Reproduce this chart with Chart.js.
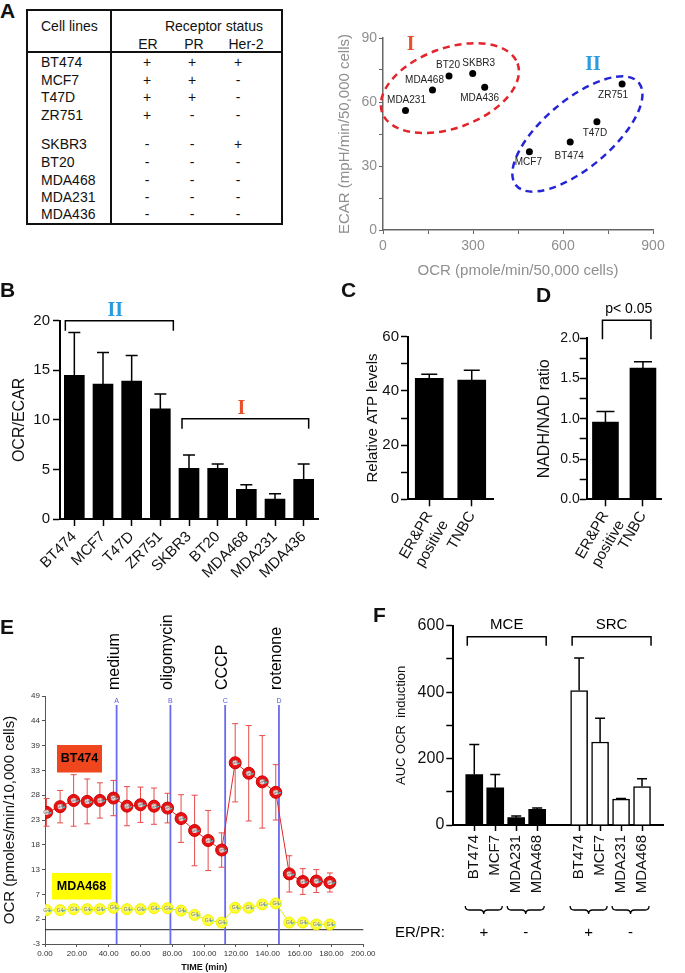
<!DOCTYPE html>
<html>
<head>
<meta charset="utf-8">
<script src="https://cdn.jsdelivr.net/npm/chart.js@4.4.0/dist/chart.umd.min.js"></script>
<style>
  body { margin: 0; background: #fff; }
  #page { position: relative; width: 685px; height: 973px; overflow: hidden; background: #fff;
          font-family: 'Liberation Sans', Arial, sans-serif; color: #111; }
  #page canvas { position: absolute; }
  .txt { position: absolute; white-space: nowrap; line-height: 1.15; }
  .line { position: absolute; background: #111; }
</style>
</head>
<body>
<div id="page">
  <canvas id="chartA" width="345" height="270" style="left:325px;top:20px"></canvas>
  <canvas id="chartB" width="330" height="290" style="left:0px;top:300px"></canvas>
  <canvas id="chartC" width="150" height="290" style="left:355px;top:300px"></canvas>
  <canvas id="chartD" width="150" height="290" style="left:530px;top:300px"></canvas>
  <canvas id="chartE" width="380" height="373" style="left:0px;top:600px"></canvas>
  <canvas id="chartF" width="300" height="373" style="left:385px;top:600px"></canvas>
</div>
<script>
// ---------- Panel A: receptor table ----------
const cellLines  = ['BT474', 'MCF7', 'T47D', 'ZR751', 'SKBR3', 'BT20', 'MDA468', 'MDA231', 'MDA436'];
const erStatus   = ['+', '+', '+', '+', '-', '-', '-', '-', '-'];
const prStatus   = ['+', '+', '+', '-', '-', '-', '-', '-', '-'];
const her2Status = ['+', '-', '-', '-', '+', '-', '-', '-', '-'];

// ---------- Panel A: OCR vs ECAR ----------
const scatterCells = ['MDA231', 'MDA468', 'BT20', 'SKBR3', 'MDA436', 'MCF7', 'BT474', 'T47D', 'ZR751'];
const scatterOcr   = [75, 165, 220, 299, 339, 488, 624, 713, 797];
const scatterEcar  = [56, 65.6, 72.2, 73.4, 66.9, 36.7, 41.3, 50.8, 68.4];

// ---------- Panel B: OCR/ECAR ----------
const bCells    = cellLines;
const bRatio    = [14.5, 13.6, 13.9, 11.1, 5.1, 5.1, 3.0, 2.0, 4.0];
const bRatioErr = [4.3, 3.2, 2.6, 1.5, 1.35, 0.45, 0.45, 0.55, 1.55];

// ---------- Panels C, D ----------
const cdGroups  = [['ER&PR', 'positive'], 'TNBC'];
const cAtp      = [44.6, 44.0];
const cAtpErr   = [1.5, 3.6];
const dNadh     = [0.96, 1.63];
const dNadhErr  = [0.13, 0.08];

// ---------- Panel E: OCR time course ----------
const eTime     = [1, 9.5, 18, 26.5, 34.5, 43, 51.5, 60, 68.5, 77, 85.5, 94, 102.5, 111, 119.5, 128, 136.5, 145, 153.5, 162, 170.5, 179];
const bt474Ocr  = [24.6, 25.8, 27.1, 26.9, 27.1, 27.6, 25.9, 26.2, 25.9, 25.5, 23.3, 20.8, 18.7, 16.7, 35.0, 32.8, 31.0, 28.8, 11.7, 10.1, 10.2, 9.9];
const bt474Sd   = [2.9, 3.4, 5.4, 4.7, 3.7, 3.7, 4.1, 3.7, 3.8, 3.1, 5.0, 7.4, 6.3, 3.6, 8.2, 10.0, 9.7, 5.8, 3.8, 2.7, 2.4, 2.0];
const mda468Ocr = [4.1, 4.1, 4.3, 4.3, 4.3, 4.6, 4.3, 4.3, 4.5, 4.5, 4.0, 3.1, 2.0, 1.5, 4.6, 4.6, 5.3, 5.5, 1.5, 1.5, 1.1, 1.1];
const eInjectTimes = [45, 78.8, 113.2, 147];
const eInjectPorts = ['A', 'B', 'C', 'D'];
const eDrugs       = ['medium', 'oligomycin', 'CCCP', 'rotenone'];

// ---------- Panel F: AUC OCR induction ----------
const fCells   = ['BT474', 'MCF7', 'MDA231', 'MDA468'];
const fMce     = [152, 112, 22, 47];
const fMceErr  = [90, 40, 5, 4];
const fSrc     = [405, 250, 78, 116];
const fSrcErr  = [98, 71, 2, 23];
const fErPr    = ['+', '-', '+', '-'];

const FONT = "'Liberation Sans', Arial, sans-serif";
Chart.defaults.font.family = FONT;
Chart.defaults.color = '#111';
Chart.defaults.animation = false;
Chart.defaults.responsive = false;
Chart.defaults.devicePixelRatio = 1;
Chart.defaults.plugins.legend.display = false;
Chart.defaults.plugins.tooltip.enabled = false;

const page = document.getElementById('page');

// DOM text helper (x/y = anchor, vertically centred)
function addText(str, x, y, opts = {}) {
  const el = document.createElement('div');
  el.className = 'txt';
  el.textContent = str;
  el.style.left = x + 'px';
  el.style.top = y + 'px';
  el.style.fontSize = (opts.size || 14) + 'px';
  if (opts.bold) el.style.fontWeight = 'bold';
  const tx = opts.align === 'center' ? '-50%' : opts.align === 'right' ? '-100%' : '0';
  el.style.transform = `translate(${tx}, -50%)`;
  page.appendChild(el);
}

function addLine(x, y, w, h) {
  const el = document.createElement('div');
  el.className = 'line';
  el.style.left = x + 'px';
  el.style.top = y + 'px';
  el.style.width = w + 'px';
  el.style.height = h + 'px';
  page.appendChild(el);
}

// Panel letters
addText('A', 0, 11, { size: 21, bold: true });
addText('B', 0, 290, { size: 21, bold: true });
addText('C', 341, 290, { size: 21, bold: true });
addText('D', 536, 295, { size: 21, bold: true });
addText('E', 0, 627, { size: 21, bold: true });
addText('F', 373, 615, { size: 21, bold: true });

// Table
addLine(26, 9, 257, 2);
addLine(26, 223, 257, 2);
addLine(26, 9, 2, 216);
addLine(281, 9, 2, 216);
addLine(110, 9, 2, 216);
addLine(26, 51, 257, 2);
addText('Cell lines', 41, 26);
addText('Receptor status', 214, 26, { align: 'center' });
addText('ER', 148, 44, { align: 'center' });
addText('PR', 194, 44, { align: 'center' });
addText('Her-2', 246, 44, { align: 'center' });
const rowY = [62, 79.5, 97, 115, 144, 162, 180, 197, 214];
cellLines.forEach((name, i) => {
  addText(name, 41, rowY[i]);
  addText(erStatus[i], 147, rowY[i], { align: 'center' });
  addText(prStatus[i], 192, rowY[i], { align: 'center' });
  addText(her2Status[i], 238, rowY[i], { align: 'center' });
});

// fixed axis sizes so chart areas land where the figure has them
function fixWidth(w) { return scale => { scale.width = w; }; }
function fixHeight(h) { return scale => { scale.height = h; }; }

// upward error bars for bar charts
const barErrors = {
  id: 'barErrors',
  afterDatasetsDraw(chart) {
    const ctx = chart.ctx;
    const y = chart.scales.y;
    chart.data.datasets.forEach((ds, di) => {
      if (!ds.errors) return;
      chart.getDatasetMeta(di).data.forEach((bar, i) => {
        const v = ds.data[i], e = ds.errors[i];
        if (v == null || e == null) return;
        const top = y.getPixelForValue(v + e);
        const half = (ds.capWidth || 10) / 2;
        ctx.save();
        ctx.strokeStyle = '#000';
        ctx.lineWidth = 1.5;
        ctx.beginPath();
        ctx.moveTo(bar.x, bar.y);
        ctx.lineTo(bar.x, top);
        ctx.moveTo(bar.x - half, top);
        ctx.lineTo(bar.x + half, top);
        ctx.stroke();
        ctx.restore();
      });
    });
  }
};

function bracket(ctx, x1, x2, yTop, drop) {
  ctx.beginPath();
  ctx.moveTo(x1, yTop + drop);
  ctx.lineTo(x1, yTop);
  ctx.lineTo(x2, yTop);
  ctx.lineTo(x2, yTop + drop);
  ctx.stroke();
}

function blackAxis(opts) {
  return Object.assign({
    grid: { drawOnChartArea: false, color: '#000', tickLength: 7, tickWidth: 1.5, offset: false },
    border: { color: '#000', width: 2 }
  }, opts);
}

// ---------- Chart A: scatter ----------
const groupEllipses = [
  { ocr: 223, ecar: 66.5, rx: 72, ry: 40, angle: -20, color: '#e3242b' },
  { ocr: 648, ecar: 45, rx: 80, ry: 34, angle: -40, color: '#2525d5' }
];
const groupNames = [
  { text: 'I', ocr: 92, ecar: 86.7, color: '#e8502a' },
  { text: 'II', ocr: 700, ecar: 77.3, color: '#2a9be0' }
];
const scatterLabelOffsets = [[1, -10], [-8, -10], [-1, -11], [6, -10], [-5, 11], [-1, 11], [-1, 14], [-2, 12], [-9, 11]];

const scatterPlugin = {
  id: 'scatterDeco',
  afterDatasetsDraw(chart) {
    const { ctx, scales: { x, y } } = chart;
    ctx.save();
    groupEllipses.forEach(g => {
      ctx.beginPath();
      ctx.ellipse(x.getPixelForValue(g.ocr), y.getPixelForValue(g.ecar), g.rx, g.ry, g.angle * Math.PI / 180, 0, Math.PI * 2);
      ctx.setLineDash([7, 5]);
      ctx.lineWidth = 2.5;
      ctx.strokeStyle = g.color;
      ctx.stroke();
    });
    ctx.setLineDash([]);
    ctx.font = "bold 20px 'Liberation Serif', 'DejaVu Serif', serif";
    ctx.textAlign = 'center';
    ctx.textBaseline = 'middle';
    groupNames.forEach(g => {
      ctx.fillStyle = g.color;
      ctx.fillText(g.text, x.getPixelForValue(g.ocr), y.getPixelForValue(g.ecar));
    });
    ctx.font = '10px ' + FONT;
    ctx.fillStyle = '#222';
    chart.getDatasetMeta(0).data.forEach((pt, i) => {
      const off = scatterLabelOffsets[i];
      ctx.fillText(scatterCells[i], pt.x + off[0], pt.y + off[1]);
    });
    ctx.restore();
  }
};

const grayText = '#8f8f8f';
new Chart(document.getElementById('chartA'), {
  type: 'scatter',
  data: {
    datasets: [{
      data: scatterOcr.map((v, i) => ({ x: v, y: scatterEcar[i] })),
      pointRadius: 3.5,
      pointBackgroundColor: '#000',
      pointBorderWidth: 0
    }]
  },
  options: {
    layout: { padding: { top: 18, right: 17, bottom: 8, left: 0 } },
    scales: {
      x: {
        type: 'linear', min: 0, max: 900,
        ticks: { stepSize: 150, color: grayText, font: { size: 14 }, padding: 4, maxRotation: 0,
                 callback: v => (v % 300 === 0 ? v : '') },
        grid: { drawOnChartArea: false, color: '#666', tickLength: 4 },
        border: { color: '#666', width: 1.5 },
        title: { display: true, text: 'OCR (pmole/min/50,000 cells)', color: grayText, font: { size: 15 }, padding: { top: 0, bottom: 2 } },
        afterFit: fixHeight(52)
      },
      y: {
        min: 0, max: 90,
        ticks: { stepSize: 15, color: grayText, font: { size: 14 }, padding: 2,
                 callback: v => (v % 30 === 0 ? v : '') },
        grid: { drawOnChartArea: false, color: '#666', tickLength: 4 },
        border: { color: '#666', width: 1.5 },
        title: { display: true, text: 'ECAR (mpH/min/50,000 cells)', color: grayText, font: { size: 15 }, padding: { top: 11, bottom: 0 } },
        afterFit: fixWidth(58)
      }
    }
  },
  plugins: [scatterPlugin]
});

// ---------- Chart B: OCR/ECAR bars ----------
const bBrackets = [
  { from: 0, to: 3, padL: -9, padR: 13, value: 20, text: 'II', color: '#2a9be0' },
  { from: 4, to: 8, padL: -7, padR: 5, value: 10.1, text: 'I', color: '#e8502a' }
];
const bPlugin = {
  id: 'bBrackets',
  afterDraw(chart) {
    const { ctx, scales: { x, y } } = chart;
    ctx.save();
    ctx.strokeStyle = '#000';
    ctx.lineWidth = 1.5;
    ctx.font = "bold 20px 'Liberation Serif', 'DejaVu Serif', serif";
    ctx.textAlign = 'center';
    ctx.textBaseline = 'middle';
    bBrackets.forEach(b => {
      const x1 = x.getPixelForValue(b.from) + b.padL;
      const x2 = x.getPixelForValue(b.to) + b.padR;
      const top = y.getPixelForValue(b.value);
      bracket(ctx, x1, x2, top, 10);
      ctx.fillStyle = b.color;
      ctx.fillText(b.text, (x1 + x2) / 2 - 4, top - 10);
    });
    ctx.restore();
  }
};

new Chart(document.getElementById('chartB'), {
  type: 'bar',
  data: {
    labels: bCells,
    datasets: [{ data: bRatio, errors: bRatioErr, capWidth: 12, backgroundColor: '#000', barThickness: 20 }]
  },
  options: {
    layout: { padding: { top: 20.7, right: 12, bottom: 0, left: 0 } },
    scales: {
      x: blackAxis({
        ticks: { font: { size: 15 }, minRotation: 45, maxRotation: 45, padding: 2, autoSkip: false },
        afterFit: fixHeight(71)
      }),
      y: blackAxis({
        min: 0, max: 20,
        ticks: { stepSize: 5, font: { size: 15 }, padding: 3 },
        title: { display: true, text: 'OCR/ECAR', font: { size: 16 }, padding: { top: 9.6, bottom: 0 } },
        afterFit: fixWidth(60)
      })
    }
  },
  plugins: [barErrors, bPlugin]
});

// ---------- Chart C: ATP ----------
new Chart(document.getElementById('chartC'), {
  type: 'bar',
  data: {
    labels: cdGroups,
    datasets: [{ data: cAtp, errors: cAtpErr, capWidth: 16, backgroundColor: '#000', barThickness: 28 }]
  },
  options: {
    layout: { padding: { top: 36.7, right: 12, bottom: 0, left: 0 } },
    scales: {
      x: blackAxis({
        ticks: { font: { size: 15 }, minRotation: 60, maxRotation: 60, padding: 2, autoSkip: false },
        afterFit: fixHeight(90.7)
      }),
      y: blackAxis({
        min: 0, max: 60,
        ticks: { stepSize: 10, font: { size: 15 }, padding: 2, callback: v => (v % 20 === 0 ? v : '') },
        title: { display: true, text: 'Relative ATP levels', font: { size: 15 }, padding: { top: 9, bottom: 0 } },
        afterFit: fixWidth(53)
      })
    }
  },
  plugins: [barErrors]
});

// ---------- Chart D: NADH/NAD ----------
const dPlugin = {
  id: 'dSignif',
  afterDraw(chart) {
    const { ctx, scales: { x } } = chart;
    const x1 = x.getPixelForValue(0) - 3;
    const x2 = x.getPixelForValue(1) + 8;
    const top = chart.chartArea.top - 18;
    ctx.save();
    ctx.strokeStyle = '#000';
    ctx.lineWidth = 1.5;
    bracket(ctx, x1, x2, top, 19);
    ctx.fillStyle = '#000';
    ctx.font = '14px ' + FONT;
    ctx.textAlign = 'center';
    ctx.textBaseline = 'middle';
    ctx.fillText('p< 0.05', (x1 + x2) / 2 + 2, top - 11);
    ctx.restore();
  }
};

new Chart(document.getElementById('chartD'), {
  type: 'bar',
  data: {
    labels: cdGroups,
    datasets: [{ data: dNadh, errors: dNadhErr, capWidth: 18, backgroundColor: '#000', barThickness: 26 }]
  },
  options: {
    layout: { padding: { top: 38.3, right: 18.3, bottom: 0, left: 0 } },
    scales: {
      x: blackAxis({
        ticks: { font: { size: 15 }, minRotation: 60, maxRotation: 60, padding: 2, autoSkip: false },
        afterFit: fixHeight(90.7)
      }),
      y: blackAxis({
        min: 0, max: 2,
        ticks: { stepSize: 0.25, font: { size: 14 }, padding: 0,
                 callback: v => (Math.abs(v * 2 - Math.round(v * 2)) < 1e-6 ? v.toFixed(1) : '') },
        title: { display: true, text: 'NADH/NAD ratio', font: { size: 16 }, padding: { top: 5.4, bottom: 0 } },
        afterFit: fixWidth(56.7)
      })
    }
  },
  plugins: [barErrors, dPlugin]
});

// ---------- Chart E: OCR time course ----------
const ePlugin = {
  id: 'eDeco',
  beforeDatasetsDraw(chart) {
    const { ctx, chartArea: area, scales: { x, y } } = chart;
    ctx.save();
    // zero line
    ctx.strokeStyle = '#222';
    ctx.lineWidth = 1;
    ctx.beginPath();
    ctx.moveTo(area.left, y.getPixelForValue(0));
    ctx.lineTo(area.right, y.getPixelForValue(0));
    ctx.stroke();
    // injection ports
    eInjectTimes.forEach((t, i) => {
      const px = x.getPixelForValue(t);
      ctx.strokeStyle = '#6a6af0';
      ctx.lineWidth = 1.8;
      ctx.beginPath();
      ctx.moveTo(px, area.top + 9);
      ctx.lineTo(px, area.bottom);
      ctx.stroke();
      ctx.fillStyle = '#5a5ae0';
      ctx.font = '7px ' + FONT;
      ctx.textAlign = 'center';
      ctx.textBaseline = 'middle';
      ctx.fillText(eInjectPorts[i], px, area.top + 5);
      ctx.save();
      ctx.translate(px - 2.5, area.top - 6);
      ctx.rotate(-Math.PI / 2);
      ctx.fillStyle = '#000';
      ctx.font = '16px ' + FONT;
      ctx.textAlign = 'left';
      ctx.fillText(eDrugs[i], 0, 0);
      ctx.restore();
    });
    // BT474 error bars
    ctx.strokeStyle = '#e84a4a';
    ctx.lineWidth = 1;
    chart.getDatasetMeta(0).data.forEach((pt, i) => {
      const hi = y.getPixelForValue(bt474Ocr[i] + bt474Sd[i]);
      const lo = y.getPixelForValue(bt474Ocr[i] - bt474Sd[i]);
      ctx.beginPath();
      ctx.moveTo(pt.x, hi); ctx.lineTo(pt.x, lo);
      ctx.moveTo(pt.x - 3, hi); ctx.lineTo(pt.x + 3, hi);
      ctx.moveTo(pt.x - 3, lo); ctx.lineTo(pt.x + 3, lo);
      ctx.stroke();
    });
    ctx.restore();
  },
  afterDatasetsDraw(chart) {
    const { ctx, chartArea: area } = chart;
    ctx.save();
    ctx.textAlign = 'center';
    ctx.textBaseline = 'middle';
    chart.data.datasets.forEach((ds, di) => {
      chart.getDatasetMeta(di).data.forEach(pt => {
        ctx.fillStyle = ds.innerColor;
        ctx.beginPath();
        ctx.arc(pt.x, pt.y, 2.6, 0, Math.PI * 2);
        ctx.fill();
        ctx.strokeStyle = '#45c8d8';
        ctx.lineWidth = 1.2;
        ctx.beginPath();
        ctx.moveTo(pt.x + 2, pt.y + 1.5);
        ctx.lineTo(pt.x + 5, pt.y);
        ctx.stroke();
        ctx.fillStyle = '#777';
        ctx.font = '5px ' + FONT;
        ctx.fillText('G4', pt.x, pt.y);
      });
    });
    // line labels
    ctx.font = 'bold 12.5px ' + FONT;
    ctx.fillStyle = '#f0461e';
    ctx.fillRect(area.left + 12, area.top + 49, 45, 27.5);
    ctx.fillStyle = '#000';
    ctx.fillText('BT474', area.left + 34.5, area.top + 63);
    ctx.fillStyle = '#ffff00';
    ctx.fillRect(area.left + 7, area.top + 177, 59, 26.5);
    ctx.fillStyle = '#000';
    ctx.fillText('MDA468', area.left + 36.5, area.top + 190.5);
    ctx.restore();
  }
};

new Chart(document.getElementById('chartE'), {
  type: 'line',
  data: {
    datasets: [
      {
        data: eTime.map((t, i) => ({ x: t, y: bt474Ocr[i] })),
        borderColor: '#e02a2a', borderWidth: 1,
        pointRadius: 6, pointBackgroundColor: '#e81010', pointBorderColor: '#d00000', pointBorderWidth: 1,
        innerColor: '#e6cfcf'
      },
      {
        data: eTime.map((t, i) => ({ x: t, y: mda468Ocr[i] })),
        borderColor: '#e8e800', borderWidth: 1,
        pointRadius: 5.5, pointBackgroundColor: '#ffff30', pointBorderColor: '#f0f000', pointBorderWidth: 1,
        innerColor: '#f6f6a8'
      }
    ]
  },
  options: {
    layout: { padding: { top: 96, right: 16.7, bottom: 0, left: 0 } },
    scales: {
      x: {
        type: 'linear', min: 0, max: 200,
        ticks: { stepSize: 20, font: { size: 8 }, color: '#333', padding: 2, maxRotation: 0, autoSkip: false,
                 callback: v => v.toFixed(2) },
        grid: { drawOnChartArea: false, color: '#555', tickLength: 3 },
        border: { color: '#555', width: 1 },
        title: { display: true, text: 'TIME (min)', font: { size: 9, weight: 'bold' }, padding: { top: 0, bottom: 0 } },
        afterFit: fixHeight(29)
      },
      y: {
        min: -3, max: 49,
        ticks: { stepSize: 5.2, font: { size: 8 }, color: '#333', padding: 2, callback: v => Math.round(v) },
        grid: { drawOnChartArea: false, color: '#555', tickLength: 3 },
        border: { color: '#555', width: 1 },
        title: { display: true, text: 'OCR (pmoles/min/10,000 cells)', font: { size: 15 }, padding: { top: 1, bottom: 0 } },
        afterFit: fixWidth(45)
      }
    }
  },
  plugins: [ePlugin]
});

// ---------- Chart F: AUC OCR induction ----------
const fLabels = ['', ...fCells, '', ...fCells, ''];
const fMceData = [null, ...fMce, null, null, null, null, null, null];
const fMceErrData = [null, ...fMceErr, null, null, null, null, null, null];
const fSrcData = [null, null, null, null, null, null, ...fSrc, null];
const fSrcErrData = [null, null, null, null, null, null, ...fSrcErr, null];
const fGroups = [{ text: 'MCE', from: 1, to: 4 }, { text: 'SRC', from: 6, to: 9 }];

const fPlugin = {
  id: 'fDeco',
  afterDraw(chart) {
    const { ctx, chartArea: area, scales: { x, y } } = chart;
    ctx.save();
    ctx.strokeStyle = '#000';
    ctx.lineWidth = 1.5;
    ctx.fillStyle = '#000';
    ctx.font = '15px ' + FONT;
    ctx.textAlign = 'center';
    ctx.textBaseline = 'middle';
    fGroups.forEach(g => {
      const x1 = x.getPixelForValue(g.from) - 7;
      const x2 = x.getPixelForValue(g.to) + 9;
      const top = y.getPixelForValue(600) + 11;
      bracket(ctx, x1, x2, top, 9);
      ctx.fillText(g.text, (x1 + x2) / 2, top - 12);
    });
    // ER/PR braces
    const by = area.bottom + 81;
    [1, 3, 6, 8].forEach((idx, k) => {
      const x1 = x.getPixelForValue(idx) - 9;
      const x2 = x.getPixelForValue(idx + 1) + 7;
      const m = (x1 + x2) / 2;
      const h = 8;
      ctx.lineWidth = 1.3;
      ctx.beginPath();
      ctx.moveTo(x1, by);
      ctx.quadraticCurveTo(x1, by + h / 2, x1 + h / 2, by + h / 2);
      ctx.lineTo(m - h / 2, by + h / 2);
      ctx.quadraticCurveTo(m, by + h / 2, m, by + h);
      ctx.quadraticCurveTo(m, by + h / 2, m + h / 2, by + h / 2);
      ctx.lineTo(x2 - h / 2, by + h / 2);
      ctx.quadraticCurveTo(x2, by + h / 2, x2, by);
      ctx.stroke();
      ctx.fillText(fErPr[k], m, area.bottom + 108);
    });
    ctx.textAlign = 'left';
    ctx.fillText('ER/PR:', 10, area.bottom + 108);
    ctx.restore();
  }
};

new Chart(document.getElementById('chartF'), {
  type: 'bar',
  data: {
    labels: fLabels,
    datasets: [
      { data: fMceData, errors: fMceErrData, capWidth: 10, backgroundColor: '#000', borderColor: '#000',
        borderWidth: 0, barThickness: 17, grouped: false },
      { data: fSrcData, errors: fSrcErrData, capWidth: 10, backgroundColor: '#fff', borderColor: '#000',
        borderWidth: 1.5, barThickness: 17, grouped: false }
    ]
  },
  options: {
    layout: { padding: { top: 25.7, right: 0, bottom: 0, left: 0 } },
    scales: {
      x: blackAxis({
        offset: false,
        grid: { drawOnChartArea: false, tickLength: 6, tickWidth: 1.5, offset: false,
                color: c => (fLabels[c.index] ? '#000' : 'rgba(0,0,0,0)') },
        ticks: { font: { size: 15 }, minRotation: 90, maxRotation: 90, padding: 4, autoSkip: false },
        afterFit: fixHeight(148)
      }),
      y: blackAxis({
        min: 0, max: 600,
        ticks: { stepSize: 100, font: { size: 16 }, padding: 2, callback: v => (v % 200 === 0 ? v : '') },
        title: { display: true, text: 'AUC OCR  induction', font: { size: 13 }, padding: { top: 9, bottom: 0 } },
        afterFit: fixWidth(68.3)
      })
    }
  },
  plugins: [barErrors, fPlugin]
});
</script>
</body>
</html>
